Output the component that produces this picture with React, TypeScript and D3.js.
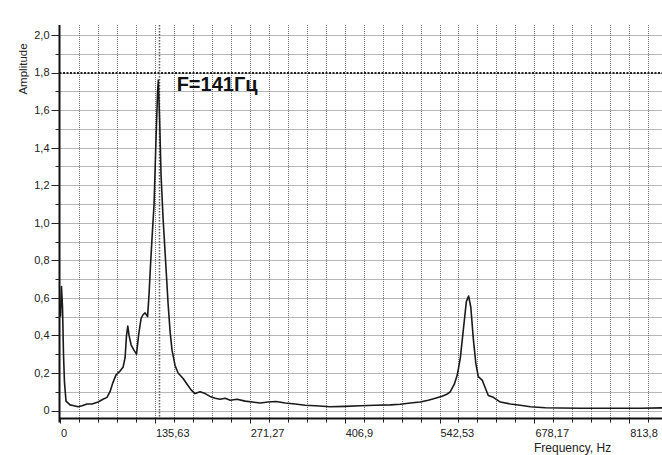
import React from "react";
import * as d3 from "d3";

// spectrum (Hz, amplitude)
const freqHz = [
  0.7, 2.1, 3.6, 5.0, 6.4, 8.6, 14.3, 20.0, 25.8, 31.5, 38.6, 45.8, 54.4, 61.5, 67.2,
  71.5, 75.8, 80.1, 85.8, 90.1, 93.0, 95.1, 96.9, 98.7, 101.6, 105.9, 109.4, 112.3,
  115.9, 118.7, 121.6, 125.2, 127.3, 129.5, 131.6, 134.5, 137.3, 139.5, 140.6, 142.4,
  144.5, 147.4, 150.9, 154.5, 157.4, 160.2, 164.5, 168.8, 176.0, 181.7, 187.4, 193.1,
  200.3, 207.5, 214.6, 221.8, 228.9, 236.1, 243.3, 253.2, 264.7, 274.7, 286.1, 297.6,
  309.0, 321.9, 336.2, 350.5, 364.8, 386.2, 407.7, 429.2, 450.6, 472.1, 486.4, 500.7,
  515.0, 526.5, 536.5, 545.1, 552.2, 558.0, 563.7, 568.0, 572.3, 576.6, 580.9, 584.1,
  587.3, 590.9, 594.5, 598.0, 603.8, 608.0, 612.3, 619.5, 629.5, 643.8, 658.1, 672.4,
  693.9, 715.4, 744.0, 772.6, 801.2, 829.8, 861.3,
];
const amplitude = [
  0.5, 0.66, 0.55, 0.3, 0.15, 0.05, 0.03, 0.025, 0.02, 0.025, 0.035, 0.035, 0.045, 0.06,
  0.07, 0.1, 0.15, 0.19, 0.21, 0.23, 0.28, 0.4, 0.45, 0.4, 0.35, 0.32, 0.3, 0.4, 0.49,
  0.51, 0.52, 0.5, 0.62, 0.78, 0.92, 1.1, 1.45, 1.7, 1.76, 1.55, 1.25, 1.02, 0.8, 0.57,
  0.42, 0.32, 0.24, 0.2, 0.17, 0.14, 0.11, 0.09, 0.1, 0.09, 0.075, 0.065, 0.06, 0.065,
  0.055, 0.06, 0.05, 0.045, 0.04, 0.045, 0.048, 0.04, 0.035, 0.028, 0.025, 0.02, 0.022,
  0.025, 0.028, 0.03, 0.033, 0.04, 0.045, 0.055, 0.065, 0.075, 0.085, 0.1, 0.14, 0.19,
  0.28, 0.43, 0.58, 0.61, 0.55, 0.38, 0.25, 0.18, 0.16, 0.12, 0.08, 0.07, 0.045, 0.035,
  0.028, 0.02, 0.015, 0.013, 0.012, 0.012, 0.012, 0.012, 0.014,
];

const xTickValues = [0, 135.633, 271.267, 406.9, 542.533, 678.167, 813.8];
const xTickLabels = ["0", "135,63", "271,27", "406,9", "542,53", "678,17", "813,8"];
const yTickValues = [0, 0.2, 0.4, 0.6, 0.8, 1.0, 1.2, 1.4, 1.6, 1.8, 2.0];
const yTickLabels = ["0", "0,2", "0,4", "0,6", "0,8", "1,0", "1,2", "1,4", "1,6", "1,8", "2,0"];
const peakFreq = 141;
const peakLevel = 1.8;
const peakLabel = "F=141Гц";

const W = 662;
const H = 455;

export default function App() {
  const x = d3.scaleLinear().domain([0, 860.6]).range([60, 662]);
  const y = d3.scaleLinear().domain([0, 2]).range([410.5, 35]);

  const axisY = y(-0.043);
  const topY = y(2.053);
  const axisX = x(0) - 0.5;

  const xStep = xTickValues[1] / 5;
  const xGrid = d3.range(0, 861, xStep).slice(1);
  const yGrid = d3.range(0, 2.001, 0.1);

  const pts = freqHz.map((f, i) => [f, amplitude[i]] as [number, number]);
  const line = d3
    .line<[number, number]>()
    .x((d) => x(d[0]))
    .y((d) => y(d[1]));

  const font = "'Liberation Sans', Arial, sans-serif";

  return (
    <svg
      width={W}
      height={H}
      style={{ position: "absolute", left: 0, top: 0, background: "#fff" }}
      fontFamily={font}
    >
      {/* grid */}
      {yGrid.map((v) => (
        <line
          key={"hy" + v}
          x1={axisX}
          x2={W}
          y1={Math.round(y(v)) + 0.5}
          y2={Math.round(y(v)) + 0.5}
          stroke="#6e6e6e"
          strokeDasharray="1,1"
        />
      ))}
      {xGrid.map((v) => (
        <line
          key={"vx" + v}
          x1={Math.round(x(v)) + 0.5}
          x2={Math.round(x(v)) + 0.5}
          y1={topY}
          y2={axisY}
          stroke="#6e6e6e"
          strokeDasharray="1,1"
        />
      ))}

      {/* marker lines */}
      <line
        x1={axisX}
        x2={W}
        y1={Math.round(y(peakLevel))}
        y2={Math.round(y(peakLevel))}
        stroke="#222"
        strokeWidth={2}
        strokeDasharray="2,1.5"
      />
      <line
        x1={Math.round(x(peakFreq)) + 0.5}
        x2={Math.round(x(peakFreq)) + 0.5}
        y1={topY}
        y2={axisY}
        stroke="#555"
        strokeWidth={1.5}
        strokeDasharray="1.5,1.5"
      />

      {/* spectrum */}
      <path d={line(pts) ?? ""} fill="none" stroke="#1a1a1a" strokeWidth={1.6} strokeLinejoin="round" />

      {/* axes */}
      <line x1={axisX} x2={axisX} y1={topY} y2={axisY + 4} stroke="#111" strokeWidth={2} />
      <line x1={axisX} x2={W} y1={axisY} y2={axisY} stroke="#111" strokeWidth={2} />

      {yGrid.map((v, i) => (
        <line
          key={"yt" + v}
          x1={axisX - (i % 2 === 0 ? 8 : 4)}
          x2={axisX}
          y1={Math.round(y(v)) + 0.5}
          y2={Math.round(y(v)) + 0.5}
          stroke="#222"
        />
      ))}
      {[0, ...xGrid].map((v, i) => (
        <line
          key={"xt" + v}
          x1={Math.round(x(v)) + 0.5}
          x2={Math.round(x(v)) + 0.5}
          y1={axisY}
          y2={axisY + (i % 5 === 0 ? 5 : 4)}
          stroke="#222"
        />
      ))}

      {yTickValues.map((v, i) => (
        <text
          key={"yl" + v}
          x={axisX - 10}
          y={y(v)}
          dy="0.35em"
          textAnchor="end"
          fontSize={11}
          fill="#222"
        >
          {yTickLabels[i]}
        </text>
      ))}
      {xTickValues.map((v, i) => (
        <text key={"xl" + v} x={x(v) + 1} y={437} fontSize={11} fill="#222">
          {xTickLabels[i]}
        </text>
      ))}

      <text
        transform={`translate(27,69) rotate(-90)`}
        textAnchor="middle"
        fontSize={11.5}
        fill="#222"
      >
        Amplitude
      </text>
      <text x={534} y={452} fontSize={12} fill="#222">
        Frequency, Hz
      </text>

      <text x={x(peakFreq) + 18} y={91} fontSize={20} fontWeight="bold" fill="#111">
        {peakLabel}
      </text>
    </svg>
  );
}
